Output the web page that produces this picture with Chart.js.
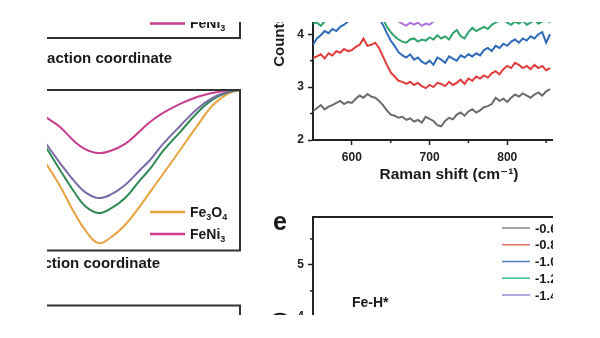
<!DOCTYPE html>
<html>
<head>
<meta charset="utf-8">
<title>Energy profiles and Raman spectra</title>
<script src="https://cdn.jsdelivr.net/npm/chart.js@4.4.1/dist/chart.umd.min.js"></script>
<style>
  html, body { margin: 0; padding: 0; background: #fff; }
  #fig { position: relative; width: 600px; height: 338px; overflow: hidden;
         clip-path: inset(22px 47px 23px 47px); }
  #fig canvas { position: absolute; }
</style>
</head>
<body>
<div id="fig">
  <canvas id="panelA" width="300" height="200" style="left:-50px; top:-130px"></canvas>
  <canvas id="panelB" width="326" height="200" style="left:-76px; top:80px"></canvas>
  <canvas id="panelC" width="310" height="100" style="left:-60px; top:295px"></canvas>
  <canvas id="panelD" width="340" height="296" style="left:260px; top:-110px"></canvas>
  <canvas id="panelE" width="340" height="310" style="left:260px; top:200px"></canvas>
</div>
<script>
// energy profiles (left column)
const reactionCoord = [30, 33, 37.5, 42.7, 46.2, 50.7, 54.9, 60.1, 65.3, 68.75, 73.3, 79.2, 85.1, 90.3, 95.5, 100];
const energyFe3O4 = [-0.374, -0.467, -0.598, -0.773, -0.872, -0.953, -0.922, -0.841, -0.723, -0.636, -0.523, -0.374, -0.224, -0.100, -0.025, 0];
const energyFeNi3 = [-0.131, -0.174, -0.231, -0.324, -0.368, -0.393, -0.380, -0.336, -0.255, -0.199, -0.143, -0.087, -0.044, -0.019, -0.003, 0];
const energyMidA  = [-0.262, -0.343, -0.455, -0.573, -0.636, -0.673, -0.654, -0.592, -0.498, -0.436, -0.336, -0.224, -0.118, -0.050, -0.012, 0];
const energyMidB  = [-0.287, -0.368, -0.498, -0.642, -0.723, -0.766, -0.741, -0.673, -0.561, -0.492, -0.380, -0.262, -0.143, -0.062, -0.016, 0];

// Raman spectra (panel d)
const ramanShift = [550, 555, 560, 565, 570, 575, 580, 585, 590, 595,
  600, 605, 610, 615, 620, 625, 630, 635, 640, 645,
  650, 655, 660, 665, 670, 675, 680, 685, 690, 695,
  700, 705, 710, 715, 720, 725, 730, 735, 740, 745,
  750, 755, 760, 765, 770, 775, 780, 785, 790, 795,
  800, 805, 810, 815, 820, 825, 830, 835, 840, 845,
  850, 855];
const countsGray = [2.55, 2.60, 2.66, 2.58, 2.63, 2.66, 2.70, 2.74, 2.68, 2.72,
  2.70, 2.78, 2.84, 2.80, 2.87, 2.82, 2.80, 2.74, 2.66, 2.56,
  2.48, 2.46, 2.42, 2.44, 2.38, 2.41, 2.35, 2.38, 2.33, 2.44,
  2.40, 2.36, 2.28, 2.26, 2.36, 2.42, 2.39, 2.48, 2.52, 2.46,
  2.54, 2.58, 2.52, 2.56, 2.62, 2.64, 2.68, 2.80, 2.74, 2.78,
  2.72, 2.80, 2.86, 2.82, 2.88, 2.84, 2.80, 2.86, 2.90, 2.84,
  2.92, 2.96];
const countsRed = [3.55, 3.58, 3.62, 3.54, 3.64, 3.60, 3.68, 3.65, 3.72, 3.68,
  3.70, 3.76, 3.80, 3.92, 3.78, 3.80, 3.84, 3.74, 3.58, 3.42,
  3.28, 3.20, 3.12, 3.10, 3.06, 3.10, 3.04, 3.08, 3.02, 2.98,
  3.04, 3.00, 3.08, 3.06, 3.02, 3.10, 3.04, 3.08, 3.14, 3.06,
  3.16, 3.12, 3.20, 3.16, 3.22, 3.18, 3.26, 3.30, 3.24, 3.34,
  3.40, 3.36, 3.46, 3.42, 3.36, 3.40, 3.34, 3.42, 3.36, 3.40,
  3.32, 3.36];
const countsBlue = [3.80, 3.92, 3.98, 4.06, 4.02, 4.10, 4.06, 4.14, 4.18, 4.24,
  4.30, 4.34, 4.40, 4.36, 4.42, 4.38, 4.40, 4.30, 4.18, 4.02,
  3.88, 3.78, 3.66, 3.60, 3.56, 3.62, 3.52, 3.56, 3.48, 3.44,
  3.50, 3.42, 3.56, 3.52, 3.46, 3.58, 3.54, 3.50, 3.60, 3.56,
  3.62, 3.58, 3.64, 3.60, 3.70, 3.74, 3.68, 3.78, 3.74, 3.82,
  3.78, 3.86, 3.90, 3.84, 3.92, 3.88, 3.96, 3.92, 4.00, 4.04,
  3.84, 4.00];
const countsGreen = [4.20, 4.22, 4.16, 4.24, 4.30, 4.36, 4.40, 4.44, 4.48, 4.50,
  4.54, 4.58, 4.60, 4.64, 4.60, 4.62, 4.58, 4.48, 4.30, 4.14,
  4.04, 3.96, 3.90, 3.86, 3.84, 3.90, 3.92, 3.86, 3.90, 3.88,
  3.94, 3.90, 3.98, 3.92, 3.96, 3.90, 4.02, 4.08, 3.96, 3.92,
  4.04, 4.12, 4.06, 4.10, 4.14, 4.10, 4.18, 4.22, 4.26, 4.30,
  4.22, 4.18, 4.24, 4.20, 4.26, 4.18, 4.22, 4.28, 4.20, 4.24,
  4.30, 4.22];
const countsPurple = [4.56, 4.60, 4.66, 4.62, 4.70, 4.74, 4.78, 4.82, 4.86, 4.90,
  4.94, 4.98, 5.02, 5.06, 5.04, 5.08, 5.02, 4.90, 4.70, 4.52,
  4.40, 4.30, 4.24, 4.20, 4.16, 4.22, 4.18, 4.22, 4.16, 4.20,
  4.18, 4.24, 4.28, 4.26, 4.32, 4.30, 4.36, 4.34, 4.40, 4.38,
  4.44, 4.42, 4.48, 4.46, 4.52, 4.56, 4.54, 4.60, 4.64, 4.62,
  4.68, 4.66, 4.72, 4.70, 4.74, 4.72, 4.78, 4.76, 4.80, 4.78,
  4.82, 4.80];
const potentialLabels = ['-0.6 V', '-0.8 V', '-1.0 V', '-1.2 V', '-1.4 V'];
const ramanColors = ['#6b6b6b', '#e03c3c', '#2f6bb8', '#2fa36b', '#ad72dc'];
const legendColorsE = ['#8c8c8c', '#e87474', '#5a86c4', '#48bf92', '#a392d6'];

const FONT = "'Liberation Sans', 'DejaVu Sans', Arial, sans-serif";
Chart.defaults.font.family = FONT;
Chart.defaults.font.weight = 'bold';
Chart.defaults.color = '#1a1a1a';
Chart.defaults.animation = false;
Chart.defaults.plugins.legend.display = false;
Chart.defaults.plugins.tooltip.enabled = false;

function fixed(size) {
  return function (scale) {
    if (scale.isHorizontal()) scale.height = size;
    else scale.width = size;
  };
}

function points(xs, ys) {
  return xs.map((x, i) => ({x: x, y: ys[i]}));
}

function drawRich(ctx, text, x, y, size, subDigits) {
  let cx = x;
  for (const ch of text) {
    const sub = subDigits && ch >= '0' && ch <= '9';
    ctx.font = 'bold ' + (sub ? Math.round(size * 0.65) : size) + 'px ' + FONT;
    ctx.fillText(ch, cx, sub ? y + size * 0.32 : y);
    cx += ctx.measureText(ch).width;
  }
}

// box around the plot area, only on the sides asked for
const framePlugin = {
  id: 'frame',
  afterDatasetsDraw(chart, args, o) {
    if (!o.sides) return;
    const {ctx, chartArea: a} = chart;
    ctx.save();
    ctx.strokeStyle = o.color || '#333';
    ctx.lineWidth = o.width || 2;
    ctx.lineCap = 'square';
    ctx.beginPath();
    if (o.sides.includes('t')) { ctx.moveTo(a.left, a.top); ctx.lineTo(a.right, a.top); }
    if (o.sides.includes('b')) { ctx.moveTo(a.left, a.bottom); ctx.lineTo(a.right, a.bottom); }
    if (o.sides.includes('r')) { ctx.moveTo(a.right, a.top); ctx.lineTo(a.right, a.bottom); }
    if (o.sides.includes('l')) { ctx.moveTo(a.left, a.top); ctx.lineTo(a.left, a.bottom); }
    ctx.stroke();
    ctx.restore();
  }
};

// legend drawn inside the plot area: short line + label
const lineLegend = {
  id: 'lineLegend',
  afterDatasetsDraw(chart, args, o) {
    if (!o.show) return;
    const {ctx, chartArea: a} = chart;
    const items = chart.data.datasets.filter(d => d.inLegend !== false);
    ctx.save();
    ctx.textBaseline = 'middle';
    ctx.fillStyle = '#1a1a1a';
    items.forEach((d, i) => {
      const y = o.top !== undefined
        ? a.top + o.top + i * o.spacing
        : a.bottom - o.bottom - (items.length - 1 - i) * o.spacing;
      const x = a.right + o.x;
      ctx.strokeStyle = d.legendColor || d.borderColor;
      ctx.lineWidth = o.lineWidth;
      ctx.beginPath();
      ctx.moveTo(x, y);
      ctx.lineTo(x + o.length, y);
      ctx.stroke();
      drawRich(ctx, d.label, x + o.length + o.gap, y + 1, o.size, o.sub);
    });
    ctx.restore();
  }
};

const notes = {
  id: 'notes',
  afterDraw(chart, args, o) {
    if (!o.items) return;
    const {ctx, chartArea: a} = chart;
    ctx.save();
    ctx.fillStyle = '#1a1a1a';
    ctx.textBaseline = 'alphabetic';
    o.items.forEach(n => {
      ctx.font = 'bold ' + n.size + 'px ' + FONT;
      ctx.fillText(n.text, a.left + n.dx, a.top + n.dy);
    });
    ctx.restore();
  }
};

// short ticks half way between the labelled ones
const minorTicks = {
  id: 'minorTicks',
  afterDraw(chart, args, o) {
    if (!o.axes) return;
    const ctx = chart.ctx;
    ctx.save();
    ctx.strokeStyle = o.color;
    ctx.lineWidth = o.width;
    o.axes.forEach(id => {
      const s = chart.scales[id];
      const vals = s.ticks.map(t => t.value);
      const step = vals[1] - vals[0];
      vals.forEach(v => {
        const m = v + step / 2;
        if (m > s.max || m < s.min) return;
        const p = s.getPixelForValue(m);
        ctx.beginPath();
        if (s.isHorizontal()) { ctx.moveTo(p, s.top); ctx.lineTo(p, s.top + o.length); }
        else { ctx.moveTo(s.right, p); ctx.lineTo(s.right - o.length, p); }
        ctx.stroke();
      });
    });
    ctx.restore();
  }
};

Chart.register(framePlugin, lineLegend, notes, minorTicks);

const ORANGE = '#e6a33e', PINK = '#c93d8d', VIOLET = '#7a6aa8', GREEN = '#2d8a52';

function reactionAxis(min, height, padBottom) {
  return {
    type: 'linear', min: min, max: 100, afterFit: fixed(height),
    ticks: {display: false}, grid: {display: false}, border: {display: false},
    title: {display: true, text: 'Reaction coordinate', font: {size: 15}, color: '#1a1a1a',
            padding: {top: 0, bottom: padBottom}}
  };
}

const legendLeft = {show: true, x: -90, length: 35, gap: 5, spacing: 22, lineWidth: 2.5, size: 14, sub: true};

// (top left) only the lower edge is in view
new Chart(document.getElementById('panelA'), {
  type: 'line',
  data: {datasets: [
    {label: 'Fe3O4', borderColor: ORANGE, data: []},
    {label: 'FeNi3', borderColor: PINK, data: []}
  ]},
  options: {
    responsive: false, devicePixelRatio: 1,
    layout: {padding: {left: 10, right: 10, top: 10, bottom: 0}},
    scales: {x: reactionAxis(0, 32, 2.5), y: {display: false, min: -1, max: 0}},
    plugins: {
      frame: {sides: 'br', color: '#333', width: 2},
      lineLegend: Object.assign({bottom: 14.5}, legendLeft)
    }
  }
});

// (middle left) energy wells
new Chart(document.getElementById('panelB'), {
  type: 'line',
  data: {datasets: [
    {label: 'Intermediate A', inLegend: false, borderColor: VIOLET, data: points(reactionCoord, energyMidA)},
    {label: 'Intermediate B', inLegend: false, borderColor: GREEN, data: points(reactionCoord, energyMidB)},
    {label: 'Fe3O4', borderColor: ORANGE, data: points(reactionCoord, energyFe3O4)},
    {label: 'FeNi3', borderColor: PINK, data: points(reactionCoord, energyFeNi3)}
  ]},
  options: {
    responsive: false, devicePixelRatio: 1,
    layout: {padding: {left: 12, right: 10, top: 10, bottom: 0}},
    elements: {
      line: {borderWidth: 2, tension: 0.4},
      point: {radius: 0}
    },
    scales: {x: reactionAxis(-5.56, 29.5, 7.5), y: {display: false, min: -1, max: 0}},
    plugins: {
      frame: {sides: 'tbr', color: '#333', width: 2},
      lineLegend: Object.assign({bottom: 16.5}, legendLeft)
    }
  }
});

// (bottom left) only the upper edge is in view
new Chart(document.getElementById('panelC'), {
  type: 'line',
  data: {datasets: []},
  options: {
    responsive: false, devicePixelRatio: 1,
    layout: {padding: {left: 12, right: 10, top: 10.5, bottom: 0}},
    scales: {x: {display: false, min: 0, max: 100}, y: {display: false, min: 0, max: 1}},
    plugins: {frame: {sides: 'tr', color: '#333', width: 2}}
  }
});

const axisInk = '#222';
function countsAxis(min, max) {
  return {
    min: min, max: max, afterFit: fixed(53),
    ticks: {stepSize: 1, includeBounds: false, padding: 4, font: {size: 12}, color: axisInk},
    grid: {drawOnChartArea: false, tickLength: 5, tickWidth: 1.5, tickColor: axisInk},
    border: {color: axisInk, width: 2},
    title: {display: true, text: 'Counts (a.u.)', font: {size: 15}, color: '#1a1a1a', padding: {top: 11, bottom: 0}}
  };
}

// (d) Raman spectra
const ramanSeries = [countsGray, countsRed, countsBlue, countsGreen, countsPurple];
new Chart(document.getElementById('panelD'), {
  type: 'line',
  data: {datasets: ramanSeries.map((ys, i) => ({
    label: potentialLabels[i], borderColor: ramanColors[i], data: points(ramanShift, ys)
  }))},
  options: {
    responsive: false, devicePixelRatio: 1,
    layout: {padding: {left: 0, right: 10.5, top: 12, bottom: 0}},
    elements: {line: {borderWidth: 2, tension: 0}, point: {radius: 0}},
    scales: {
      x: {
        type: 'linear', min: 550, max: 900, afterFit: fixed(46),
        ticks: {stepSize: 100, includeBounds: false, padding: 5, font: {size: 12}, color: axisInk},
        grid: {drawOnChartArea: false, tickLength: 5, tickWidth: 1.5, tickColor: axisInk},
        border: {color: axisInk, width: 2},
        title: {display: true, text: 'Raman shift (cm\u207B\u00B9)', font: {size: 15.5}, color: '#1a1a1a',
                padding: {top: 0, bottom: 1.7}}
      },
      y: countsAxis(2, 6.5)
    },
    plugins: {minorTicks: {axes: ['x', 'y'], length: 3, width: 1.5, color: axisInk}}
  }
});

// (e) top of the next panel
new Chart(document.getElementById('panelE'), {
  type: 'line',
  data: {datasets: potentialLabels.map((lab, i) => ({
    label: lab, borderColor: ramanColors[i], legendColor: legendColorsE[i], data: []
  }))},
  options: {
    responsive: false, devicePixelRatio: 1,
    layout: {padding: {left: 0, right: 10.5, top: 17, bottom: 11}},
    scales: {
      x: {type: 'linear', display: false, min: 550, max: 900},
      y: countsAxis(0.5, 5.923)
    },
    plugins: {
      frame: {sides: 'tr', color: axisInk, width: 2},
      minorTicks: {axes: ['y'], length: 3, width: 1.5, color: axisInk},
      lineLegend: {show: true, top: 11, spacing: 16.75, x: -87.5, length: 28, gap: 5, lineWidth: 1.6, size: 13, sub: false},
      notes: {items: [
        {text: 'e', dx: -40, dy: 13, size: 25},
        {text: 'Fe-H*', dx: 39, dy: 89.5, size: 14}
      ]}
    }
  }
});
</script>
</body>
</html>
